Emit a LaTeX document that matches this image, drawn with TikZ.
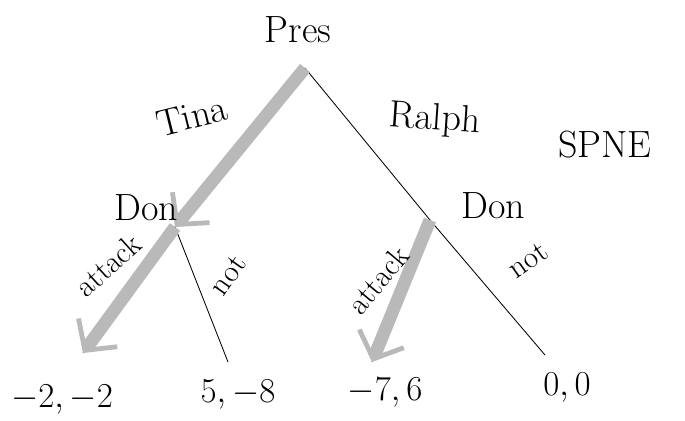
\documentclass[tikz,border=0pt]{standalone}
\usetikzlibrary{arrows.meta}

\begin{document}
\begin{tikzpicture}[
    x=0.25mm, y=-0.25mm,
    lbl/.style={font=\fontsize{27}{30}\selectfont, inner sep=1pt},
    act/.style={font=\fontsize{22}{24}\selectfont, inner sep=1pt},
    pay/.style={font=\fontsize{26}{28}\selectfont, inner sep=1pt},
    branch/.style={draw=black, line width=0.6pt},
    spne/.style={draw=gray!55, line width=3.2mm,
                 -{Straight Barb[length=5.5mm, width=12mm, line width=1.2mm]}}
  ]
    \useasboundingbox (0,0) rectangle (685,420);

    % Decision nodes and payoffs
    \coordinate (pres) at (305,68);
    \coordinate (donL) at (175,227);
    \coordinate (donR) at (430,220);
    \coordinate (ll) at (83,353);
    \coordinate (lr) at (228,362);
    \coordinate (rl) at (372,362);
    \coordinate (rr) at (545,355);

    % Branches
    \draw[branch] (pres) -- (donL);
    \draw[branch] (pres) -- (donR);
    \draw[branch] (donL) -- (ll);
    \draw[branch] (donL) -- (lr);
    \draw[branch] (donR) -- (rl);
    \draw[branch] (donR) -- (rr);

    % Equilibrium path
    \draw[spne] (pres) -- (donL);
    \draw[spne] (donL) -- (ll);
    \draw[spne] (donR) -- (rl);

    % Players
    \node[lbl] (presL) at (298,30) {Pres};
    \node[lbl] (donLL) at (146,208) {Don};
    \node[lbl] (donRL) at (493,206) {Don};
    \node[lbl] (spneL) at (605,145) {SPNE};

    % Actions
    \node[lbl, rotate=14] (tina) at (192,116) {Tina};
    \node[lbl, rotate=-4] (ralph) at (435,120) {Ralph};
    \node[act, rotate=42] (attL) at (108,265) {attack};
    \node[act, rotate=55] (notL) at (228,275) {not};
    \node[act, rotate=50] (attR) at (378,280) {attack};
    \node[act, rotate=35] (notR) at (528,260) {not};

    % Payoffs
    \node[pay] (p1) at (62,400) {$-2,-2$};
    \node[pay] (p2) at (238,395) {$5,-8$};
    \node[pay] (p3) at (385,393) {$-7,6$};
    \node[pay] (p4) at (567,388) {$0,0$};
\end{tikzpicture}
\end{document}
